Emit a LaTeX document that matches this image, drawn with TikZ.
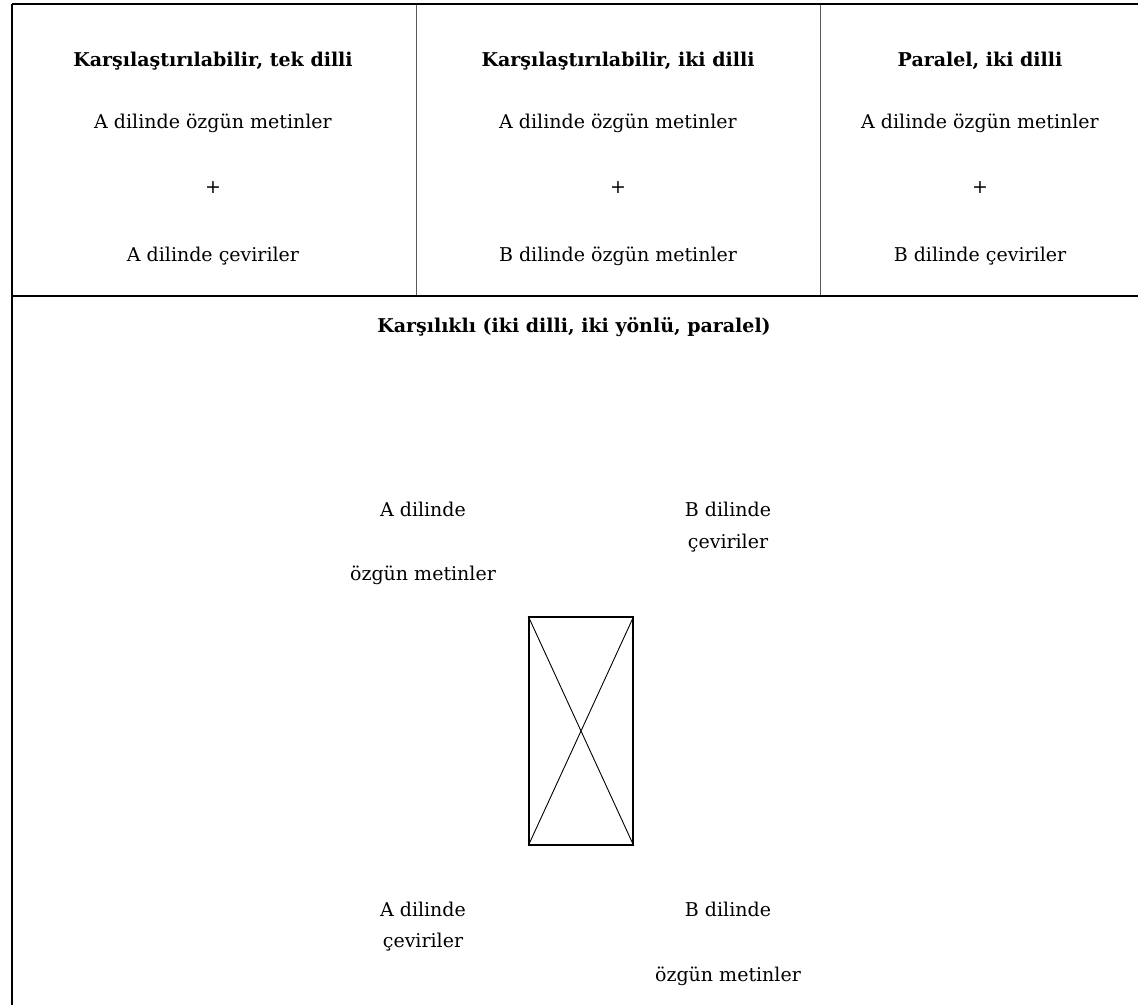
\documentclass[tikz,border=0pt]{standalone}
\usepackage{fontspec}
\setmainfont{DejaVu Serif}
\begin{document}
\begin{tikzpicture}[x=1pt,y=-1pt,
  txt/.style={anchor=base,inner sep=0pt,font=\fontsize{19}{23}\selectfont},
  ttl/.style={txt,font=\fontsize{19}{23}\selectfont\bfseries},
  frame/.style={line width=2pt,black},
  divider/.style={line width=1.5pt,black!65},
  hline/.style={line width=1.5pt,black},
  crossbox/.style={draw,line width=1.5pt,inner sep=0pt,minimum width=104pt,minimum height=228pt},
  diag/.style={line width=0.9pt}]
\useasboundingbox (0,0) rectangle (1138,1005);
% frame
\coordinate (tl) at (11.5,4);
\coordinate (tr) at (1138,4);
\coordinate (bl) at (11.5,1005);
\coordinate (ml) at (11.5,296);
\coordinate (mr) at (1138,296);
\coordinate (d1t) at (416.5,4);
\coordinate (d1b) at (416.5,296);
\coordinate (d2t) at (820.5,4);
\coordinate (d2b) at (820.5,296);
\draw[divider] (d1t) -- (d1b);
\draw[divider] (d2t) -- (d2b);
\draw[frame] (tl) -- (tr);
\draw[frame] (tl) -- (bl);
\draw[hline] (ml) -- (mr);
% column 1
\node[ttl] (t1) at (213,66) {Karşılaştırılabilir, tek dilli};
\node[txt] (a1) at (213,128) {A dilinde özgün metinler};
\node[txt,anchor=center] (p1) at (213,188) {+};
\node[txt] (b1) at (213,261) {A dilinde çeviriler};
% column 2
\node[ttl] (t2) at (618,66) {Karşılaştırılabilir, iki dilli};
\node[txt] (a2) at (618,128) {A dilinde özgün metinler};
\node[txt,anchor=center] (p2) at (618,188) {+};
\node[txt] (b2) at (618,261) {B dilinde özgün metinler};
% column 3
\node[ttl] (t3) at (980,66) {Paralel, iki dilli};
\node[txt] (a3) at (980,128) {A dilinde özgün metinler};
\node[txt,anchor=center] (p3) at (980,188) {+};
\node[txt] (b3) at (980,261) {B dilinde çeviriler};
% bottom
\node[ttl] (t4) at (574,332) {Karşılıklı (iki dilli, iki yönlü, paralel)};
\node[txt] (ul1) at (423,516) {A dilinde};
\node[txt] (ul2) at (423,580) {özgün metinler};
\node[txt] (ur1) at (728,516) {B dilinde};
\node[txt] (ur2) at (728,548) {çeviriler};
\node[crossbox] (box) at (581,731) {};
\draw[diag] (box.north west) -- (box.south east);
\draw[diag] (box.north east) -- (box.south west);
\node[txt] (ll1) at (423,916) {A dilinde};
\node[txt] (ll2) at (423,947) {çeviriler};
\node[txt] (lr1) at (728,916) {B dilinde};
\node[txt] (lr2) at (728,981) {özgün metinler};
\end{tikzpicture}
\end{document}
